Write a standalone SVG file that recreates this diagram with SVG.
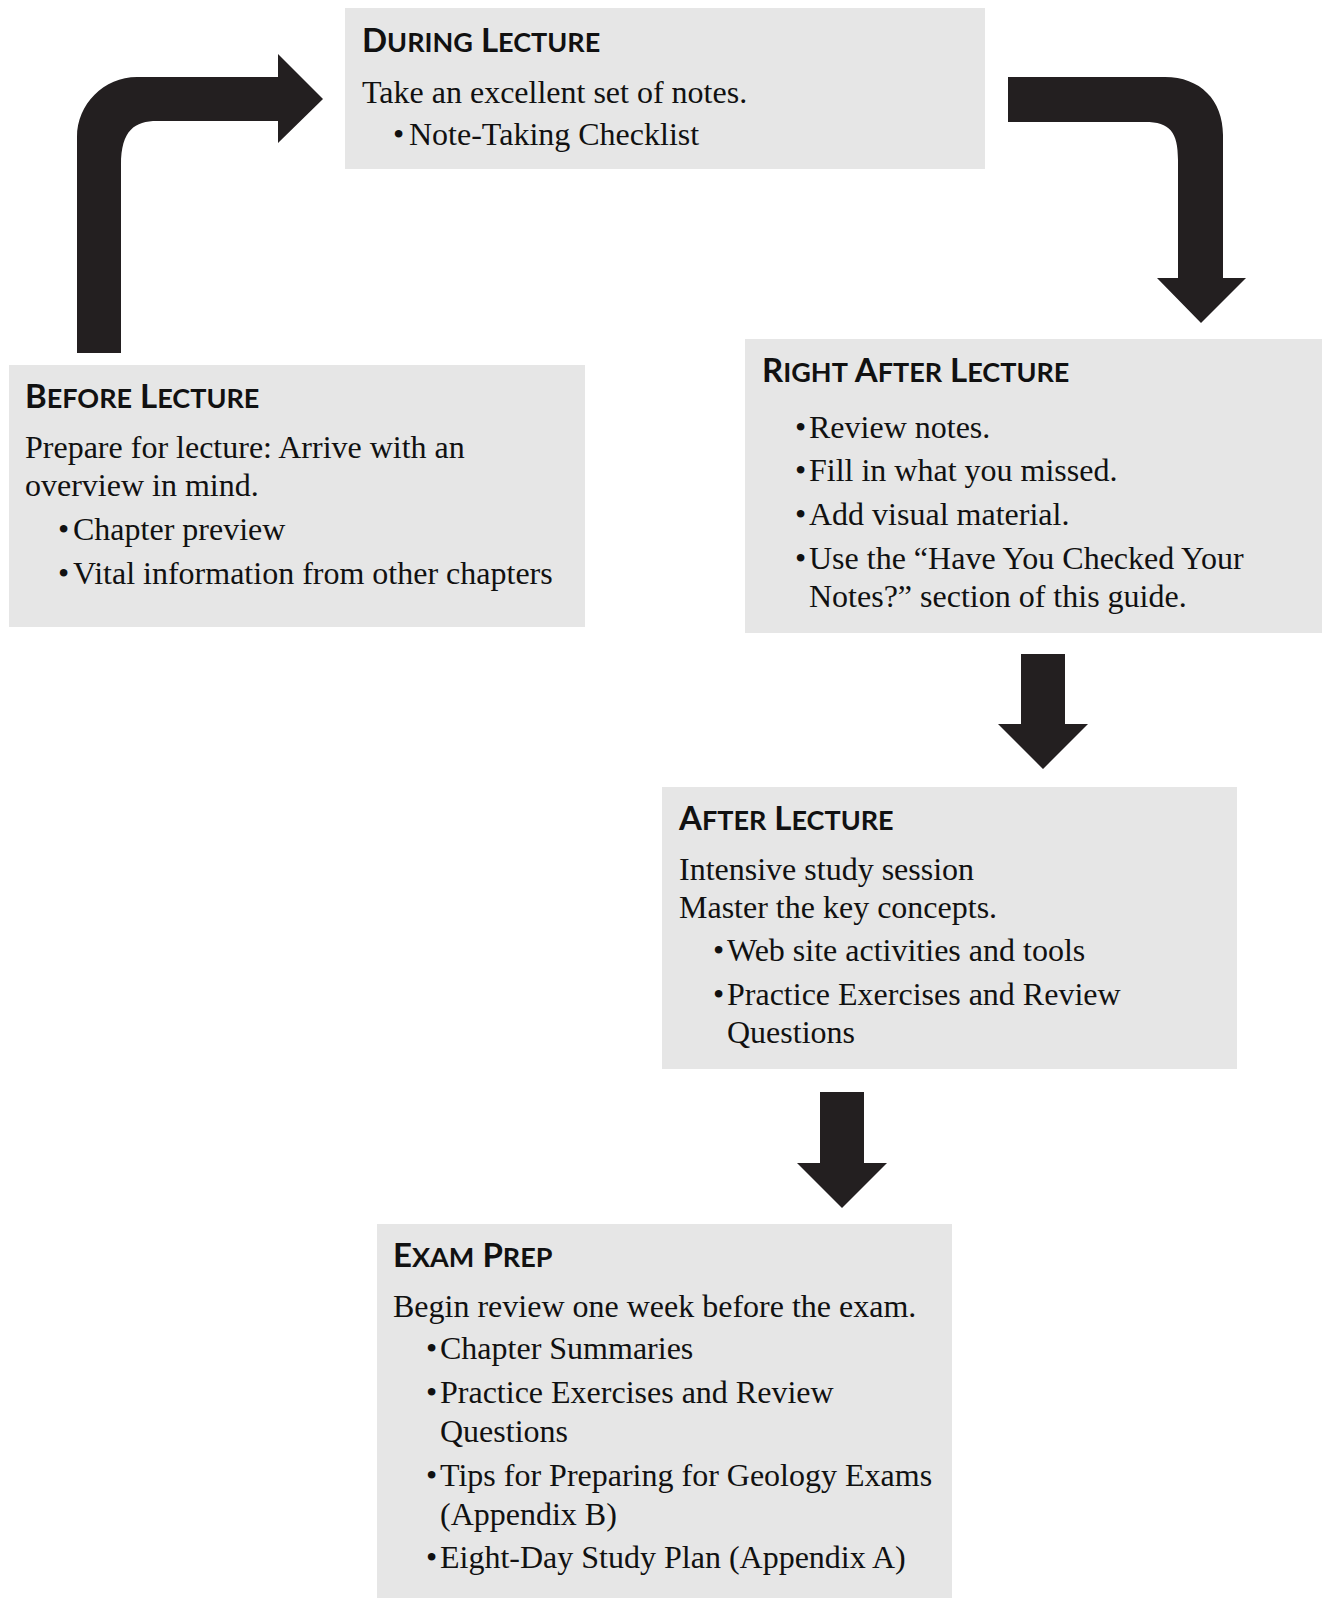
<svg xmlns="http://www.w3.org/2000/svg" width="1322" height="1598" viewBox="0 0 1322 1598">
<style>
.box{fill:#e6e6e6}
.arr{fill:#231f20}
.t{font-family:"Lato","Liberation Sans",sans-serif;font-weight:700;font-size:33px;fill:#111}
.sc{font-size:27px}
.b{font-family:"Liberation Serif","Times New Roman",serif;font-size:32px;fill:#111}
</style>
<rect width="1322" height="1598" fill="#fff"/>
<g id="connectors">
<path class="arr" d="M77 353 L77 137 C77 104 104 77 137 77 L278 77 L278 54 L323 99 L278 143 L278 121 L157 121 C135 121 121 130 121 165 L121 353 Z"/>
<path class="arr" d="M1008 77 L1165 77 C1200 77 1223 100 1223 135 L1223 278 L1246 278 L1201 323 L1157 278 L1178 278 L1178 160 C1178 132 1170 122 1145 122 L1008 122 Z"/>
<path class="arr" d="M1021 654 L1065 654 L1065 724 L1088 724 L1043 769 L998 724 L1021 724 Z"/>
<path class="arr" d="M820 1092 L864 1092 L864 1163 L887 1163 L842 1208 L797 1163 L820 1163 Z"/>
</g>
<g id="during">
<rect class="box" x="345" y="8" width="640" height="161"/>
<text class="t" x="362" y="52">D<tspan class="sc">URING</tspan> L<tspan class="sc">ECTURE</tspan></text>
<text class="b" x="362" y="103">Take an excellent set of notes.</text>
<text class="b" x="393" y="145">•<tspan x="409">Note-Taking Checklist</tspan></text>
</g>
<g id="before">
<rect class="box" x="9" y="365" width="576" height="262"/>
<text class="t" x="25" y="408">B<tspan class="sc">EFORE</tspan> L<tspan class="sc">ECTURE</tspan></text>
<text class="b" x="25" y="458">Prepare for lecture: Arrive with an</text>
<text class="b" x="25" y="496">overview in mind.</text>
<text class="b" x="58" y="540">•<tspan x="73">Chapter preview</tspan></text>
<text class="b" x="58" y="584">•<tspan x="73">Vital information from other chapters</tspan></text>
</g>
<g id="right-after">
<rect class="box" x="745" y="339" width="577" height="294"/>
<text class="t" x="762" y="382">R<tspan class="sc">IGHT</tspan> A<tspan class="sc">FTER</tspan> L<tspan class="sc">ECTURE</tspan></text>
<text class="b" x="795" y="438">•<tspan x="809">Review notes.</tspan></text>
<text class="b" x="795" y="481">•<tspan x="809">Fill in what you missed.</tspan></text>
<text class="b" x="795" y="525">•<tspan x="809">Add visual material.</tspan></text>
<text class="b" x="795" y="569">•<tspan x="809">Use the “Have You Checked Your</tspan></text>
<text class="b" x="809" y="607">Notes?” section of this guide.</text>
</g>
<g id="after">
<rect class="box" x="662" y="787" width="575" height="282"/>
<text class="t" x="679" y="830">A<tspan class="sc">FTER</tspan> L<tspan class="sc">ECTURE</tspan></text>
<text class="b" x="679" y="880">Intensive study session</text>
<text class="b" x="679" y="918">Master the key concepts.</text>
<text class="b" x="713" y="961">•<tspan x="727">Web site activities and tools</tspan></text>
<text class="b" x="713" y="1005">•<tspan x="727">Practice Exercises and Review</tspan></text>
<text class="b" x="727" y="1043">Questions</text>
</g>
<g id="exam">
<rect class="box" x="377" y="1224" width="575" height="374"/>
<text class="t" x="393" y="1267">E<tspan class="sc">XAM</tspan> P<tspan class="sc">REP</tspan></text>
<text class="b" x="393" y="1317">Begin review one week before the exam.</text>
<text class="b" x="426" y="1359">•<tspan x="440">Chapter Summaries</tspan></text>
<text class="b" x="426" y="1403">•<tspan x="440">Practice Exercises and Review</tspan></text>
<text class="b" x="440" y="1442">Questions</text>
<text class="b" x="426" y="1486">•<tspan x="440">Tips for Preparing for Geology Exams</tspan></text>
<text class="b" x="440" y="1525">(Appendix B)</text>
<text class="b" x="426" y="1568">•<tspan x="440">Eight-Day Study Plan (Appendix A)</tspan></text>
</g>
</svg>
